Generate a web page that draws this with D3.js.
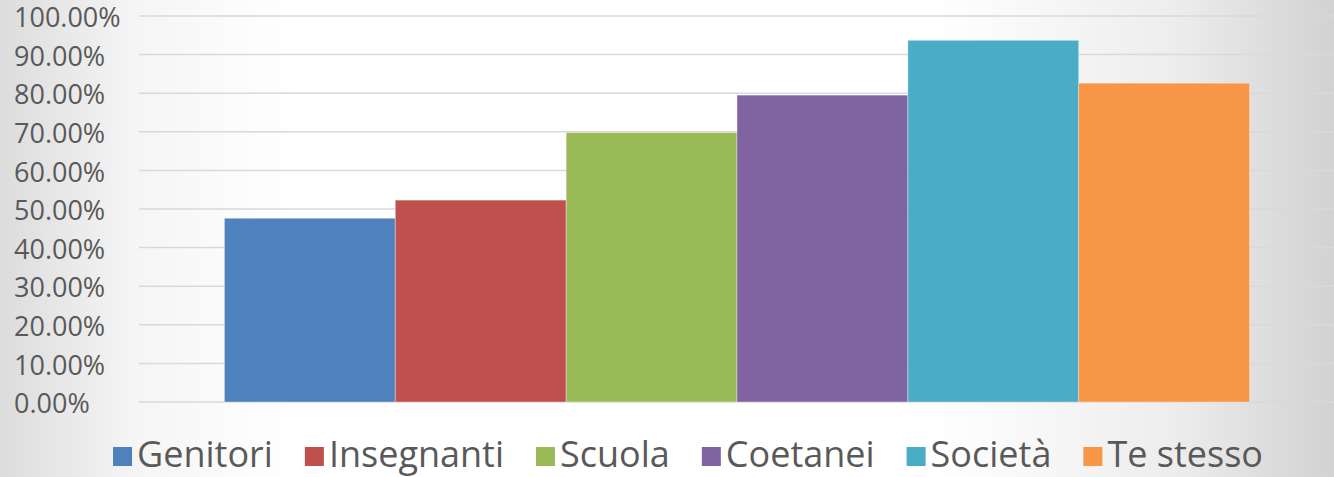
<!DOCTYPE html>
<html>
<head>
<meta charset="utf-8">
<script src="https://cdn.jsdelivr.net/npm/d3@7"></script>
<style>
  body { margin: 0; overflow: hidden; }
  svg { display: block; }
</style>
</head>
<body>
<div class="chart"></div>
<script>
var series = ["Genitori", "Insegnanti", "Scuola", "Coetanei", "Società", "Te stesso"];
var values = [0.476, 0.523, 0.698, 0.795, 0.937, 0.826];
var colors = ["#4F81BD", "#C0504D", "#9BBB59", "#8064A2", "#4BACC6", "#F79646"];
var yTicks = [0, 0.1, 0.2, 0.3, 0.4, 0.5, 0.6, 0.7, 0.8, 0.9, 1.0];

var width = 1334, height = 477;

var svg = d3.select(".chart")
    .append("svg")
    .attr("width", width)
    .attr("height", height);

// background: white in the middle, grey towards the sides
var defs = svg.append("defs");
var grad = defs.append("linearGradient")
    .attr("id", "bg")
    .attr("x1", "0").attr("x2", "1").attr("y1", "0").attr("y2", "0");
grad.append("stop").attr("offset", "0").attr("stop-color", "#dcdcdc");
grad.append("stop").attr("offset", "0.1").attr("stop-color", "#f5f5f5");
grad.append("stop").attr("offset", "0.22").attr("stop-color", "#ffffff");
grad.append("stop").attr("offset", "0.7").attr("stop-color", "#ffffff");
grad.append("stop").attr("offset", "0.88").attr("stop-color", "#ededed");
grad.append("stop").attr("offset", "1").attr("stop-color", "#d2d2d2");

svg.append("rect")
    .attr("width", width)
    .attr("height", height)
    .attr("fill", "url(#bg)");

var x = d3.scaleBand()
    .domain(series)
    .range([139, 1335])
    .paddingInner(0)
    .paddingOuter(0.5);

var y = d3.scaleLinear()
    .domain([0, 1])
    .range([402, 16]);

// gridlines
svg.append("g")
    .selectAll("line")
    .data(yTicks)
    .enter().append("line")
    .attr("x1", 139)
    .attr("x2", width)
    .attr("y1", function(d) { return y(d); })
    .attr("y2", function(d) { return y(d); })
    .style("stroke", "#d9d9d9")
    .style("stroke-width", 1.5);

// y labels, left aligned
svg.append("g")
    .selectAll("text")
    .data(yTicks)
    .enter().append("text")
    .attr("x", 14)
    .attr("y", function(d) { return y(d) + 1.5; })
    .attr("dy", "0.36em")
    .style("font-family", "'Open Sans', sans-serif")
    .style("font-size", "27px")
    .style("fill", "#595959")
    .text(function(d) { return (d * 100).toFixed(2) + "%"; });

// bars
svg.append("g")
    .selectAll("rect")
    .data(series)
    .enter().append("rect")
    .attr("x", function(d) { return x(d); })
    .attr("y", function(d, i) { return y(values[i]); })
    .attr("width", x.bandwidth())
    .attr("height", function(d, i) { return y(0) - y(values[i]); })
    .style("fill", function(d, i) { return colors[i]; })
    .style("stroke", "rgba(255,255,255,0.35)")
    .style("stroke-width", 1);

// legend
var legend = svg.append("g");
var item = legend.selectAll("g")
    .data(series)
    .enter().append("g");

item.append("rect")
    .attr("y", 447)
    .attr("width", 19)
    .attr("height", 19)
    .style("fill", function(d, i) { return colors[i]; });

item.append("text")
    .attr("x", 24)
    .attr("y", 467)
    .style("font-family", "'Open Sans', sans-serif")
    .style("font-size", "36px")
    .style("fill", "#595959")
    .text(function(d) { return d; });

var pos = 0;
item.each(function() {
    var w = 24 + d3.select(this).select("text").node().getComputedTextLength();
    d3.select(this).attr("data-x", pos);
    pos += w + 32;
});
var total = pos - 32;
var start = 688 - total / 2;
item.attr("transform", function() {
    return "translate(" + (start + (+d3.select(this).attr("data-x"))) + ",0)";
});
</script>
</body>
</html>
